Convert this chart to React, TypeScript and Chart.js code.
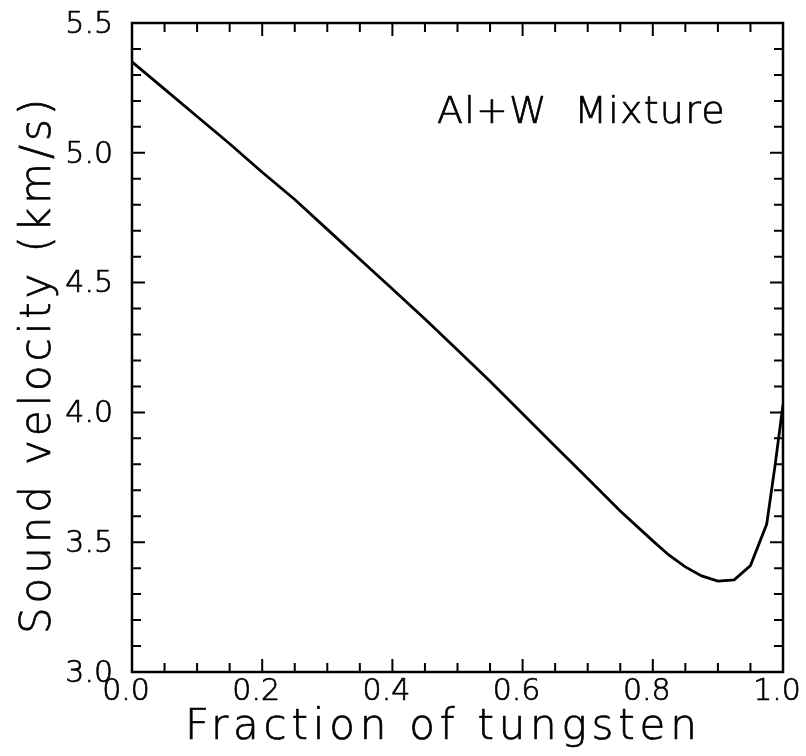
import React, { useEffect, useRef } from "react";
import { Chart, registerables } from "chart.js";

Chart.register(...registerables);

// Sound velocity of an Al+W mixture versus tungsten fraction
const FRACTION = [
  0, 0.05, 0.1, 0.15, 0.2, 0.25, 0.3, 0.35, 0.4, 0.45, 0.5, 0.55, 0.6, 0.65,
  0.7, 0.75, 0.8, 0.825, 0.85, 0.875, 0.9, 0.925, 0.95, 0.975, 0.9875, 1.0,
];
const VELOCITY = [
  5.35, 5.245, 5.14, 5.035, 4.925, 4.82, 4.705, 4.59, 4.475, 4.36, 4.24, 4.12,
  3.995, 3.87, 3.745, 3.62, 3.505, 3.45, 3.405, 3.37, 3.35, 3.355, 3.41, 3.57,
  3.79, 4.03,
];

const X_MAJOR = [0, 0.2, 0.4, 0.6, 0.8, 1.0];
const X_MINOR = [0.05, 0.1, 0.15, 0.25, 0.3, 0.35, 0.45, 0.5, 0.55, 0.65, 0.7, 0.75, 0.85, 0.9, 0.95];
const Y_MAJOR = [3.0, 3.5, 4.0, 4.5, 5.0, 5.5];
const Y_MINOR = [3.1, 3.2, 3.3, 3.4, 3.6, 3.7, 3.8, 3.9, 4.1, 4.2, 4.3, 4.4, 4.6, 4.7, 4.8, 4.9, 5.1, 5.2, 5.3, 5.4];

const X_TITLE = "Fraction of tungsten";
const Y_TITLE = "Sound velocity (km/s)";
const PLOT_LABEL = "Al+W  Mixture";

const FONT = "'DejaVu Sans', 'Liberation Sans', sans-serif";
const WEIGHT = "200";
const INK = "#000";
const TEXT_STROKE = 0.7;

// Boxed frame with inward ticks on all four sides, plus the text
const framePlugin = {
  id: "frameTicks",
  afterDraw(chart: any) {
    const { ctx, chartArea: a } = chart;
    const xs = chart.scales.x;
    const ys = chart.scales.y;
    ctx.save();
    ctx.strokeStyle = INK;
    ctx.lineWidth = 2.5;
    ctx.strokeRect(a.left, a.top, a.right - a.left, a.bottom - a.top);

    ctx.lineWidth = 2;
    const xTick = (v: number, len: number) => {
      const p = xs.getPixelForValue(v);
      ctx.beginPath();
      ctx.moveTo(p, a.bottom);
      ctx.lineTo(p, a.bottom - len);
      ctx.moveTo(p, a.top);
      ctx.lineTo(p, a.top + len);
      ctx.stroke();
    };
    const yTick = (v: number, len: number) => {
      const p = ys.getPixelForValue(v);
      ctx.beginPath();
      ctx.moveTo(a.left, p);
      ctx.lineTo(a.left + len, p);
      ctx.moveTo(a.right, p);
      ctx.lineTo(a.right - len, p);
      ctx.stroke();
    };
    X_MAJOR.forEach((v) => xTick(v, 13));
    X_MINOR.forEach((v) => xTick(v, 9));
    Y_MAJOR.forEach((v) => yTick(v, 13));
    Y_MINOR.forEach((v) => yTick(v, 9));

    const text = (s: string, x: number, y: number) => {
      ctx.strokeText(s, x, y);
      ctx.fillText(s, x, y);
    };
    ctx.fillStyle = INK;
    ctx.lineWidth = TEXT_STROKE;
    ctx.lineJoin = "round";
    ctx.textBaseline = "alphabetic";
    ctx.textAlign = "left";
    (ctx as any).letterSpacing = "4.8px";
    ctx.font = `${WEIGHT} 42px ${FONT}`;
    text(X_TITLE, a.left + 53, a.bottom + 67);

    ctx.save();
    ctx.translate(a.left - 82, a.bottom - 38);
    ctx.rotate(-Math.PI / 2);
    (ctx as any).letterSpacing = "3.9px";
    text(Y_TITLE, 0, 0);
    ctx.restore();

    (ctx as any).letterSpacing = "1.2px";
    ctx.font = `${WEIGHT} 38px ${FONT}`;
    text(PLOT_LABEL, a.left + 305, a.top + 100);
    ctx.restore();
  },
};

// Let tick labels hang past the plot edges instead of shrinking the plot
const noEdgePadding = (s: any) => {
  s.paddingTop = 0;
  s.paddingBottom = 0;
  s.paddingLeft = 0;
  s.paddingRight = 0;
};

export default function App() {
  const ref = useRef<HTMLCanvasElement>(null);

  useEffect(() => {
    document.body.style.margin = "0";
    const canvas = ref.current!;
    const tickFont = { family: FONT, size: 30, weight: WEIGHT };
    const chart = new Chart(canvas, {
      type: "line",
      data: {
        datasets: [
          {
            data: FRACTION.map((x, i) => ({ x, y: VELOCITY[i] })),
            borderColor: INK,
            borderWidth: 2.8,
            pointRadius: 0,
            tension: 0,
            fill: false,
          },
        ],
      },
      options: {
        responsive: false,
        animation: false,
        devicePixelRatio: 1,
        layout: { padding: { top: 23, right: 23, left: 0, bottom: 0 } },
        plugins: { legend: { display: false }, tooltip: { enabled: false } },
        scales: {
          x: {
            type: "linear",
            min: 0,
            max: 1,
            afterBuildTicks: (s: any) => {
              s.ticks = X_MAJOR.map((value) => ({ value }));
            },
            afterFit: (s: any) => {
              s.height = 84;
              noEdgePadding(s);
            },
            ticks: {
              font: tickFont,
              color: INK,
              textStrokeColor: INK,
              textStrokeWidth: TEXT_STROKE,
              padding: 2,
              labelOffset: -6,
              maxRotation: 0,
              autoSkip: false,
              callback: (v: any) => Number(v).toFixed(1),
            },
            grid: { display: false, drawTicks: false },
            border: { display: false },
          },
          y: {
            type: "linear",
            min: 3.0,
            max: 5.5,
            afterBuildTicks: (s: any) => {
              s.ticks = Y_MAJOR.map((value) => ({ value }));
            },
            afterFit: (s: any) => {
              s.width = 132;
              noEdgePadding(s);
            },
            ticks: {
              font: tickFont,
              color: INK,
              textStrokeColor: INK,
              textStrokeWidth: TEXT_STROKE,
              padding: 19,
              labelOffset: 2,
              autoSkip: false,
              callback: (v: any) => Number(v).toFixed(1),
            },
            grid: { display: false, drawTicks: false },
            border: { display: false },
          },
        },
      },
      plugins: [framePlugin],
    });
    return () => chart.destroy();
  }, []);

  return <canvas ref={ref} width={806} height={756} style={{ display: "block" }} />;
}
